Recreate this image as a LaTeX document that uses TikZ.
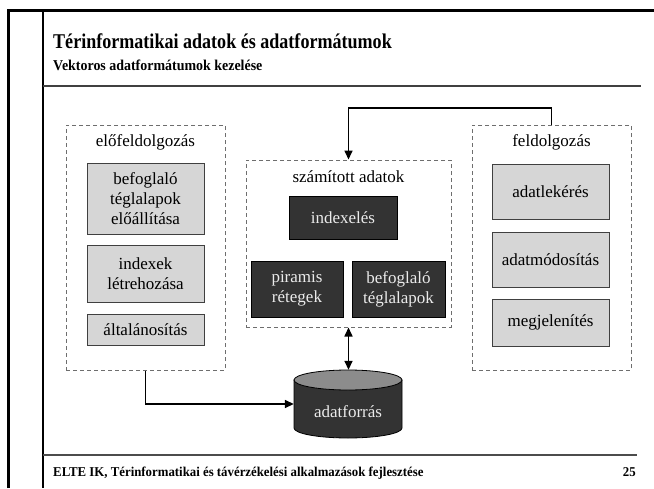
\documentclass[tikz,border=0pt]{standalone}
\usepackage{fontspec}
\setmainfont{Liberation Serif}
\usetikzlibrary{arrows.meta}
\definecolor{lightbox}{HTML}{D6D6D6}
\definecolor{darkbox}{HTML}{333333}
\definecolor{dashgray}{HTML}{6E6E6E}
\definecolor{capgray}{HTML}{8C8C8C}
\tikzset{
  groupbox/.style={draw=dashgray, line width=1pt, dash pattern=on 4pt off 3pt, rectangle, inner sep=0pt},
  lightnode/.style={draw=black!75, fill=lightbox, line width=0.8pt, rectangle, inner sep=0pt, align=center,
    font=\fontsize{17}{20}\selectfont},
  darknode/.style={draw=black, fill=darkbox, line width=0.8pt, rectangle, inner sep=0pt, align=center,
    text=white!92!black, font=\fontsize{17}{20}\selectfont},
  grouplabel/.style={font=\fontsize{17}{20}\selectfont, inner sep=0pt},
  headtext/.style={anchor=base west, inner sep=0pt},
  conn/.style={line width=1.6pt, -{Triangle[length=9pt,width=8pt]}},
  bconn/.style={line width=1.6pt, {Triangle[length=9pt,width=8pt]}-{Triangle[length=9pt,width=8pt]}},
}
\begin{document}
\begin{tikzpicture}[x=1pt,y=-1pt]
\useasboundingbox (0,0) rectangle (654,488);
\fill[white] (0,0) rectangle (654,488);
% frame
\draw[line width=3pt] (8,488) -- (8,10) -- (654,10);
\draw[line width=1.2pt] (43,10) -- (43,488);
\draw[line width=1.5pt, black!75] (43,86) -- (641,86);
\draw[line width=1.5pt, black!70] (43,455) -- (637,455);
% title texts
\node[headtext, font=\fontsize{21}{24}\selectfont\bfseries] (title) at (53,48) {\scalebox{0.86}[1]{Térinformatikai adatok és adatformátumok}};
\node[headtext, font=\fontsize{15}{18}\selectfont\bfseries] (subtitle) at (53,70) {\scalebox{0.93}[1]{Vektoros adatformátumok kezelése}};
\node[headtext, font=\fontsize{13.5}{16}\selectfont\bfseries] (footer) at (53,476) {\scalebox{0.95}[1]{ELTE IK, Térinformatikai és távérzékelési alkalmazások fejlesztése}};
\node[anchor=base east, inner sep=0pt, font=\fontsize{13.5}{16}\selectfont\bfseries] (page) at (636,476) {\scalebox{0.95}[1]{25}};

% left group
\node[groupbox, minimum width=159pt, minimum height=245pt] (lbox) at (145.5,247.5) {};
\node[grouplabel] (llab) at (145.5,142) {előfeldolgozás};
\node[lightnode, minimum width=117pt, minimum height=71pt] (l1) at (145.5,198.5) {befoglaló\\téglalapok\\előállítása};
\node[lightnode, minimum width=117pt, minimum height=57pt] (l2) at (145.5,273.5) {indexek\\létrehozása};
\node[lightnode, minimum width=117pt, minimum height=31pt] (l3) at (145.5,329.5) {általánosítás};

% centre group
\node[groupbox, minimum width=205pt, minimum height=167pt] (cbox) at (348.5,243.5) {};
\node[grouplabel] (clab) at (348.5,177) {számított adatok};
\node[darknode, minimum width=108pt, minimum height=43pt] (c1) at (343,217.5) {indexelés};
\node[darknode, minimum width=92pt, minimum height=56pt] (c2) at (297,289) {piramis\\rétegek};
\node[darknode, minimum width=93pt, minimum height=56pt] (c3) at (398.5,289) {befoglaló\\téglalapok};

% right group
\node[groupbox, minimum width=159pt, minimum height=245pt] (rbox) at (551.5,247.5) {};
\node[grouplabel] (rlab) at (551.5,142) {feldolgozás};
\node[lightnode, minimum width=117pt, minimum height=55pt] (r1) at (550.5,191.5) {adatlekérés};
\node[lightnode, minimum width=117pt, minimum height=55pt] (r2) at (550.5,259.5) {adatmódosítás};
\node[lightnode, minimum width=117pt, minimum height=47pt] (r3) at (550.5,322.5) {megjelenítés};

% cylinder (data source)
\node[rectangle, inner sep=0pt, minimum width=108pt, minimum height=68pt] (db) at (348,404) {};
\filldraw[fill=darkbox, draw=black, line width=0.8pt]
  (294,380) -- (294,428) arc[start angle=180, end angle=360, x radius=54pt, y radius=10pt] -- (402,380) -- cycle;
\filldraw[fill=capgray, draw=black, line width=0.8pt] (348,380) ellipse [x radius=54pt, y radius=10pt];
\node[font=\fontsize{17}{20}\selectfont, text=white!92!black, inner sep=0pt] (dblab) at (348,412) {adatforrás};

% connectors
\coordinate (topturn) at (348.5,108);
\draw[conn] (rbox.north) |- (topturn) -- (cbox.north);
\draw[bconn] (cbox.south) -- (cbox.south |- db.north);
\draw[conn] (lbox.south) |- (db.west);
\end{tikzpicture}
\end{document}
